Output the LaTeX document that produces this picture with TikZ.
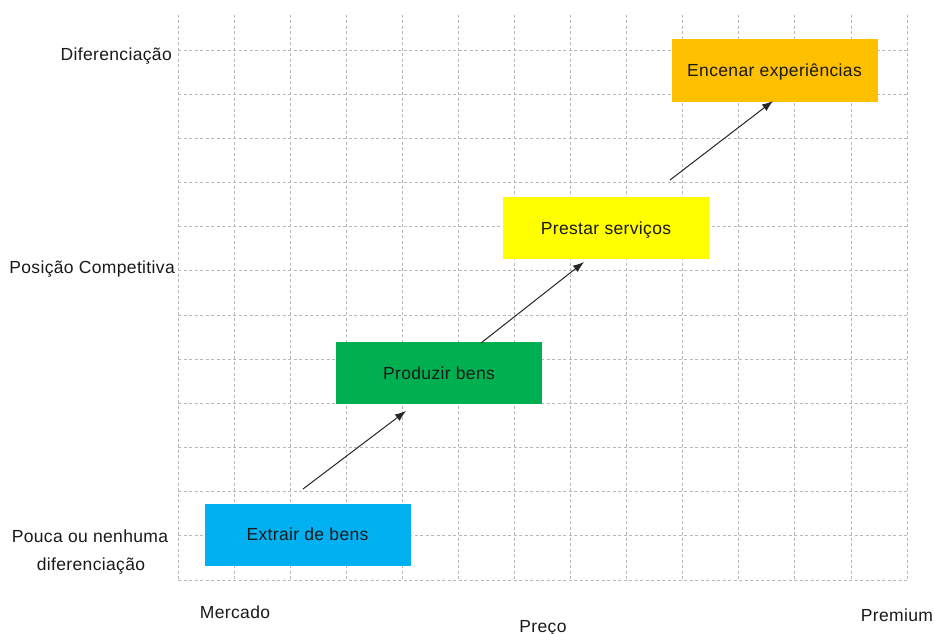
\documentclass[tikz,border=0pt]{standalone}
\usepackage{fontspec}
\setmainfont{Liberation Sans}
\usetikzlibrary{arrows.meta}
\definecolor{gridgray}{HTML}{B8B8B8}
\definecolor{cblue}{HTML}{00B0F0}
\definecolor{cgreen}{HTML}{00B050}
\definecolor{cyellow}{HTML}{FFFF00}
\definecolor{corange}{HTML}{FFC000}
\definecolor{txt}{HTML}{1A1A1A}
\begin{document}
\begin{tikzpicture}[x=1pt,y=-1pt,
  gridline/.style={draw=gridgray, line width=0.8pt, dash pattern=on 3pt off 2.5pt},
  stagebox/.style={inner sep=0pt, minimum width=206pt, minimum height=62pt, text=txt,
    text height=12.5pt, text depth=0pt,
    font=\fontsize{17.5}{21}\selectfont\addfontfeatures{LetterSpace=2}},
  lbl/.style={inner sep=0pt, text=txt, font=\fontsize{17.5}{21}\selectfont\addfontfeatures{LetterSpace=2}},
  growth/.style={draw=black!85, line width=1pt, -{Latex[length=11pt,width=8pt]}}]
\useasboundingbox[fill=white] (0,0) rectangle (934,634);
% grid
\foreach \i in {0,...,13}
  \draw[gridline] ({178+\i*56.08},15) -- ({178+\i*56.08},580);
\foreach \j in {0,...,12}
  \draw[gridline] (178,{50+\j*44.17}) -- (908,{50+\j*44.17});
% boxes
\node[stagebox, fill=cblue]   (extrair)  at (307.5,534.5) {Extrair de bens};
\node[stagebox, fill=cgreen]  (produzir) at (439,373)     {Produzir bens};
\node[stagebox, fill=cyellow] (prestar)  at (606,228)     {Prestar serviços};
\node[stagebox, fill=corange] (encenar)  at (774.5,70.5)  {Encenar experiências};
% arrows
\coordinate (s1) at (303,489);
\coordinate (e1) at (406,411);
\coordinate (s2) at (481,343);
\coordinate (e2) at (584,262);
\coordinate (s3) at (670,180);
\coordinate (e3) at (773,101);
\draw[growth] (s1) -- (e1);
\draw[growth] (s2) -- (e2);
\draw[growth] (s3) -- (e3);
% axis labels
\node[lbl, anchor=base east] (ydif) at (172,61) {Diferenciação};
\node[lbl, anchor=base east] (ypos) at (175,273) {Posição Competitiva};
\node[lbl, anchor=base] (ypou1) at (90,542) {Pouca ou nenhuma};
\node[lbl, anchor=base] (ypou2) at (91,570) {diferenciação};
\node[lbl, anchor=base] (xmer) at (235,618) {Mercado};
\node[lbl, anchor=base] (xpre) at (543,632) {Preço};
\node[lbl, anchor=base] (xprem) at (897,621) {Premium};
\end{tikzpicture}
\end{document}
